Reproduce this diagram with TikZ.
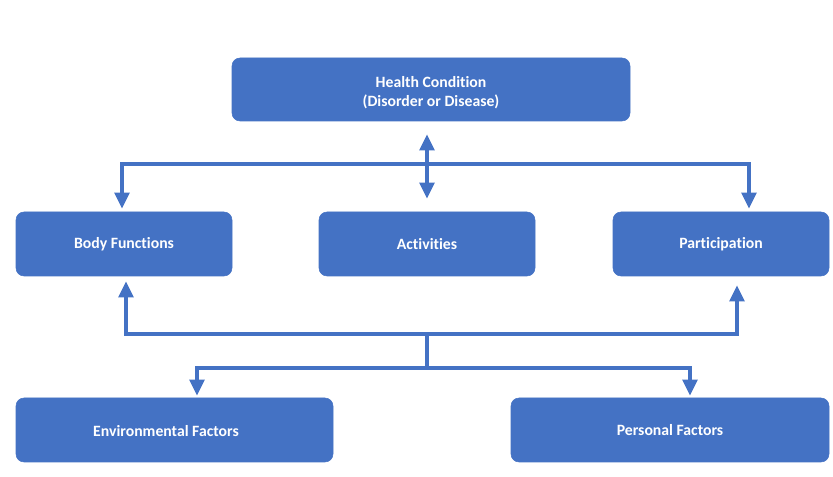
\documentclass[tikz,border=0pt]{standalone}
\usepackage{fontspec}
\setmainfont{Carlito}[Ligatures=NoCommon]
\usetikzlibrary{arrows.meta,calc}
\definecolor{icfblue}{HTML}{4472C4}
\tikzset{
  box/.style={rectangle, rounded corners=6pt, fill=icfblue, draw=icfblue,
    text=white, font=\bfseries\fontsize{11.8}{14}\selectfont, align=center,
    minimum width=162pt, minimum height=48pt, inner sep=0pt},
  boxtext/.style={text=white, font=\bfseries\fontsize{11.8}{14}\selectfont, align=center, inner sep=0pt},
  link/.style={draw=icfblue, line width=2.4pt},
  arr/.style={link, -{Triangle[width=11pt,length=12pt]}},
  darr/.style={link, {Triangle[width=11pt,length=12pt]}-{Triangle[width=11pt,length=12pt]}},
}
\begin{document}
\begin{tikzpicture}[x=0.75pt,y=-0.75pt]
\useasboundingbox (0,0) rectangle (833,477);
\node[box, minimum width=298.5pt, minimum height=47.25pt] (hc) at (431,89.5) {};
\node[boxtext] (hctext) at (431,93) {Health Condition\\(Disorder or Disease)};
\node[box] (bf) at (124,244) {Body Functions};
\node[box] (act) at (427,244) {Activities};
\node[box] (pa) at (721,244) {Participation};
\node[box, minimum width=237.75pt] (ef) at (174.5,430) {};
\node[boxtext] (eftext) at (166,431) {Environmental Factors};
\node[box, minimum width=238.5pt] (pf) at (670,430) {Personal Factors};
\coordinate (bar1) at (427,164);
\coordinate (bar2) at (427,334);
\coordinate (bar3) at (427,368);
\draw[darr] ($(hc.south -| act.north)+(0,13)$) -- ($(act.north)+(0,-13)$);
\draw[arr] (bar1) -| ($(bf.north)+(-2,-3)$);
\draw[arr] (bar1) -| ($(pa.north)+(28,-3)$);
\draw[arr] (bar2) -| ($(bf.south)+(2,5)$);
\draw[arr] (bar2) -| ($(pa.south)+(16,9)$);
\draw[link] (bar2) -- (bar3);
\draw[arr] (bar3) -| ($(ef.north)+(22.5,-2)$);
\draw[arr] (bar3) -| ($(pf.north)+(20,-2)$);
\end{tikzpicture}
\end{document}
